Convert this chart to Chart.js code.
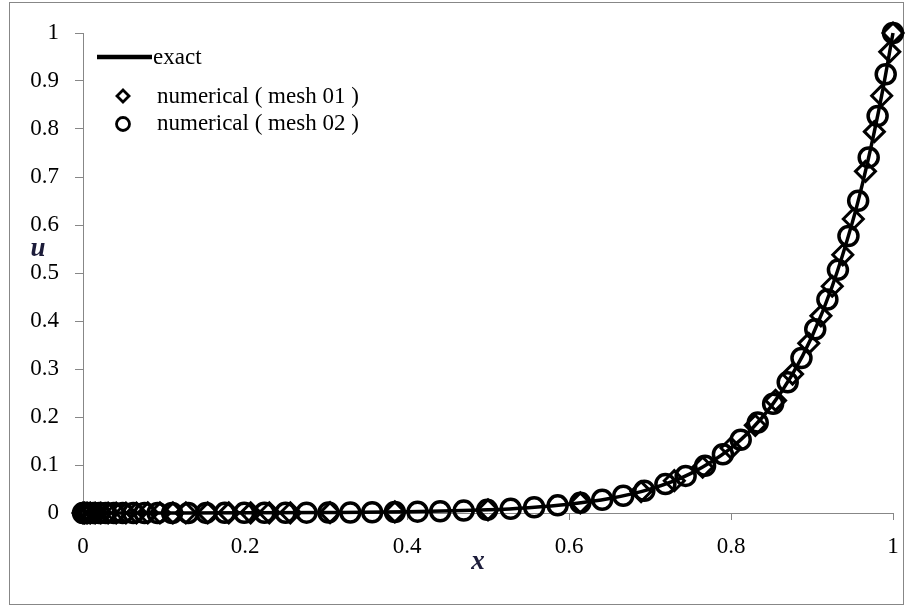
<!DOCTYPE html>
<html>
<head>
<meta charset="utf-8">
<script src="https://cdn.jsdelivr.net/npm/chart.js@4/dist/chart.umd.min.js"></script>
<style>
  body { margin: 0; background: #fff; }
  #myChart { display: block; }
</style>
</head>
<body>
<canvas id="myChart" width="907" height="607"></canvas>
<script>
// exact solution u(x)
var exactX = [0, 0.1, 0.2, 0.3, 0.4, 0.5, 0.55, 0.6, 0.65, 0.7, 0.75, 0.8, 0.825, 0.85, 0.875, 0.9, 0.925, 0.95, 0.9625, 0.975, 0.9875, 1];
var exactU = [0, 0.0001, 0.0003, 0.0009, 0.0024, 0.0067, 0.0111, 0.0183, 0.0302, 0.0498, 0.0821, 0.1353, 0.1738, 0.2231, 0.2865, 0.3679, 0.4724, 0.6065, 0.6873, 0.7788, 0.8825, 1];

// numerical, mesh 01
var mesh1X = [0, 0.002, 0.005, 0.009, 0.015, 0.022, 0.031, 0.041, 0.053, 0.066, 0.080, 0.095, 0.111, 0.127, 0.154, 0.180, 0.207, 0.230, 0.256, 0.305, 0.385, 0.500, 0.614, 0.689, 0.730, 0.765, 0.800, 0.830, 0.855, 0.876, 0.896, 0.911, 0.925, 0.938, 0.951, 0.966, 0.977, 0.986, 0.996, 1];
var mesh1U = [0, 0, 0, 0, 0, 0, 0, 0, 0, 0, 0.0001, 0.0001, 0.0001, 0.0001, 0.0002, 0.0002, 0.0003, 0.0004, 0.0005, 0.0009, 0.0021, 0.0067, 0.0211, 0.0446, 0.0672, 0.0954, 0.1353, 0.1827, 0.2346, 0.2894, 0.3535, 0.4107, 0.4724, 0.5379, 0.6126, 0.7118, 0.7945, 0.8694, 0.9608, 1];

// numerical, mesh 02
var mesh2X = [0, 0.001, 0.004, 0.008, 0.013, 0.020, 0.028, 0.038, 0.049, 0.062, 0.076, 0.092, 0.110, 0.130, 0.152, 0.175, 0.199, 0.224, 0.250, 0.276, 0.303, 0.330, 0.357, 0.385, 0.413, 0.441, 0.470, 0.499, 0.528, 0.557, 0.586, 0.614, 0.641, 0.667, 0.693, 0.719, 0.744, 0.768, 0.790, 0.812, 0.833, 0.852, 0.870, 0.887, 0.904, 0.919, 0.932, 0.945, 0.957, 0.970, 0.981, 0.991, 1];
var mesh2U = [0, 0, 0, 0, 0, 0, 0, 0, 0, 0, 0.0001, 0.0001, 0.0001, 0.0001, 0.0002, 0.0003, 0.0003, 0.0004, 0.0005, 0.0007, 0.0009, 0.0012, 0.0016, 0.0021, 0.0028, 0.0037, 0.0050, 0.0066, 0.0089, 0.0119, 0.0159, 0.0211, 0.0276, 0.0358, 0.0464, 0.0602, 0.0773, 0.0983, 0.1225, 0.1526, 0.1883, 0.2276, 0.2725, 0.3230, 0.3829, 0.4449, 0.5066, 0.5770, 0.6505, 0.7408, 0.8270, 0.9139, 1];

var xTicks = [0, 0.2, 0.4, 0.6, 0.8, 1];
var yTicks = [0, 0.1, 0.2, 0.3, 0.4, 0.5, 0.6, 0.7, 0.8, 0.9, 1];
var seriesNames = ['exact', 'numerical ( mesh 01 )', 'numerical ( mesh 02 )'];
var xTitle = 'x';
var yTitle = 'u';

var axisGrey = '#878787';
var serif = "'Liberation Serif', 'Times New Roman', serif";

function toPoints(xs, us) {
    return xs.map(function(x, i) { return { x: x, y: us[i] }; });
}

// white page + outer frame, legend and axis letters
var decorations = {
    id: 'decorations',
    beforeDraw: function(chart) {
        var ctx = chart.ctx;
        ctx.save();
        ctx.fillStyle = '#fff';
        ctx.fillRect(0, 0, chart.width, chart.height);
        ctx.strokeStyle = axisGrey;
        ctx.lineWidth = 1;
        ctx.strokeRect(9.5, 2.5, 894, 602);
        ctx.restore();
    },
    afterDraw: function(chart) {
        var ctx = chart.ctx;
        ctx.save();
        ctx.fillStyle = '#000';
        ctx.strokeStyle = '#000';
        ctx.font = '23px ' + serif;
        ctx.textBaseline = 'middle';
        ctx.textAlign = 'left';

        // exact: thick line sample
        ctx.lineWidth = 4.5;
        ctx.beginPath();
        ctx.moveTo(97, 57);
        ctx.lineTo(152, 57);
        ctx.stroke();
        ctx.fillText(seriesNames[0], 153, 58);

        // mesh 01: diamond
        ctx.lineWidth = 2.8;
        ctx.beginPath();
        ctx.moveTo(123, 90);
        ctx.lineTo(129, 96);
        ctx.lineTo(123, 102);
        ctx.lineTo(117, 96);
        ctx.closePath();
        ctx.stroke();
        ctx.fillText(seriesNames[1], 157, 97);

        // mesh 02: circle
        ctx.beginPath();
        ctx.arc(123, 124, 6.5, 0, Math.PI * 2);
        ctx.stroke();
        ctx.fillText(seriesNames[2], 157, 124);

        // axis letters
        ctx.fillStyle = '#1c1c3a';
        ctx.font = 'italic bold 27px ' + serif;
        ctx.textAlign = 'center';
        ctx.fillText(yTitle, 38, 249);
        ctx.fillText(xTitle, 478, 562);
        ctx.restore();
    }
};

function renderChart() {
    var ctx = document.getElementById('myChart').getContext('2d');

    var myChart = new Chart(ctx, {
        type: 'scatter',
        data: {
            datasets: [{
                label: seriesNames[0],
                data: toPoints(exactX, exactU),
                showLine: true,
                borderColor: '#000',
                borderWidth: 3.5,
                pointRadius: 0,
                cubicInterpolationMode: 'monotone',
                clip: false
            }, {
                label: seriesNames[1],
                data: toPoints(mesh1X, mesh1U),
                showLine: false,
                pointStyle: 'rectRot',
                pointRadius: 10,
                pointBorderWidth: 3,
                pointBorderColor: '#000',
                pointBackgroundColor: 'rgba(0,0,0,0)',
                clip: false
            }, {
                label: seriesNames[2],
                data: toPoints(mesh2X, mesh2U),
                showLine: false,
                pointStyle: 'circle',
                pointRadius: 9.5,
                pointBorderWidth: 3.5,
                pointBorderColor: '#000',
                pointBackgroundColor: 'rgba(0,0,0,0)',
                clip: false
            }]
        },
        options: {
            responsive: false,
            animation: false,
            events: [],
            layout: { padding: { left: 0, top: 33, right: 14, bottom: 0 } },
            plugins: {
                legend: { display: false },
                tooltip: { enabled: false }
            },
            scales: {
                x: {
                    type: 'linear',
                    min: 0,
                    max: 1,
                    afterBuildTicks: function(scale) {
                        scale.ticks = xTicks.map(function(v) { return { value: v }; });
                    },
                    afterFit: function(scale) {
                        scale.height = 94;
                        // keep the end labels from shrinking the plot width
                        scale.paddingLeft = 0;
                        scale.paddingRight = 0;
                    },
                    border: { color: axisGrey, width: 1 },
                    grid: {
                        drawOnChartArea: false,
                        drawTicks: true,
                        tickLength: 7,
                        color: axisGrey
                    },
                    ticks: {
                        color: '#000',
                        padding: 13,
                        maxRotation: 0,
                        font: { family: serif, size: 23 },
                        callback: function(v) { return String(+v.toFixed(1)); }
                    }
                },
                y: {
                    type: 'linear',
                    min: 0,
                    max: 1,
                    afterBuildTicks: function(scale) {
                        scale.ticks = yTicks.map(function(v) { return { value: v }; });
                    },
                    afterFit: function(scale) {
                        scale.width = 83;
                        scale.paddingTop = 0;
                        scale.paddingBottom = 0;
                    },
                    border: { color: axisGrey, width: 1 },
                    grid: {
                        drawOnChartArea: false,
                        drawTicks: true,
                        tickLength: 8,
                        color: axisGrey
                    },
                    ticks: {
                        color: '#000',
                        padding: 16,
                        font: { family: serif, size: 23 },
                        callback: function(v) { return String(+v.toFixed(1)); }
                    }
                }
            }
        },
        plugins: [decorations]
    });
}

renderChart();
</script>
</body>
</html>
